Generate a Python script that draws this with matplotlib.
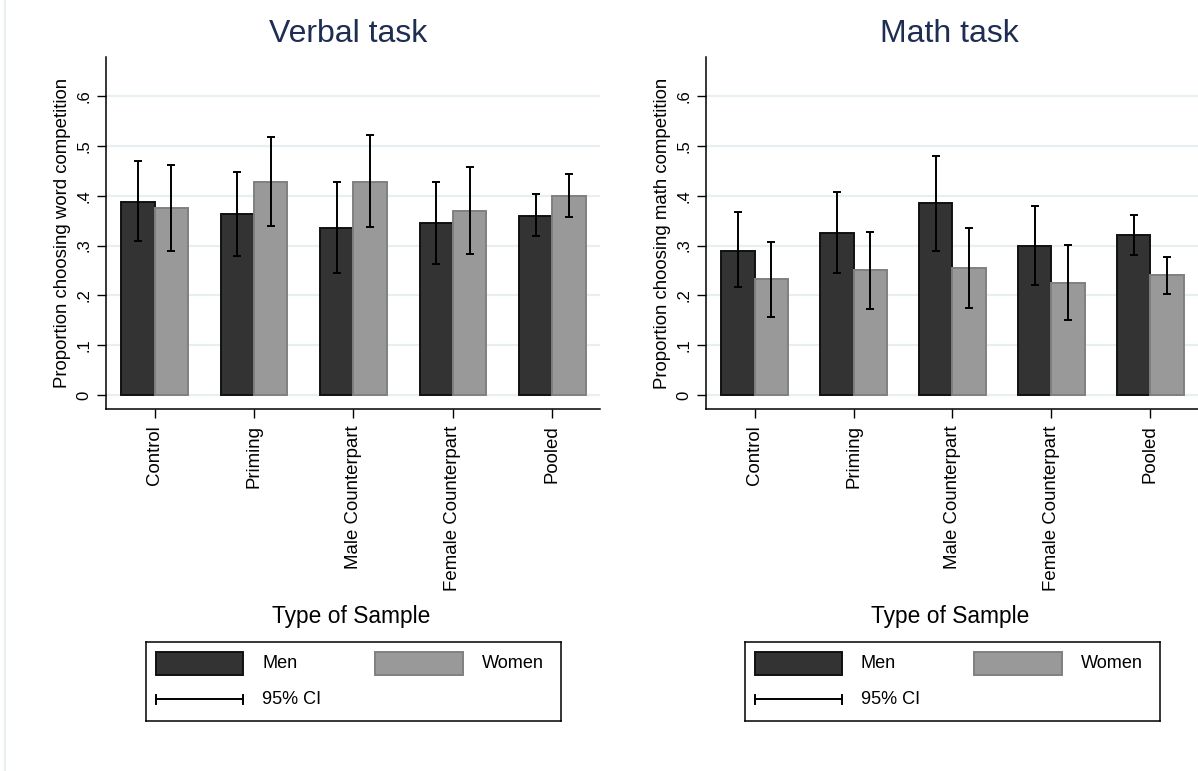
import matplotlib.pyplot as plt
import numpy as np
from matplotlib.patches import Rectangle
from matplotlib.lines import Line2D

plt.rcParams.update({
    "font.family": ["Liberation Sans", "DejaVu Sans"],
    "figure.facecolor": "white",
})

DARK, LIGHT, TITLE_C, GRID_C = "#333333", "#999999", "#1E2D52", "#E8EFF3"

samples = ["Control", "Priming", "Male Counterpart", "Female Counterpart", "Pooled"]

# Verbal task: proportion choosing word competition (mean, 95% CI)
verbal_men = [0.388, 0.363, 0.336, 0.346, 0.360]
verbal_men_lo = [0.309, 0.280, 0.244, 0.263, 0.319]
verbal_men_hi = [0.470, 0.447, 0.428, 0.428, 0.403]
verbal_women = [0.375, 0.427, 0.428, 0.370, 0.400]
verbal_women_lo = [0.290, 0.339, 0.337, 0.284, 0.357]
verbal_women_hi = [0.462, 0.517, 0.521, 0.457, 0.444]

# Math task: proportion choosing math competition (mean, 95% CI)
math_men = [0.290, 0.325, 0.385, 0.300, 0.321]
math_men_lo = [0.217, 0.245, 0.290, 0.220, 0.281]
math_men_hi = [0.367, 0.407, 0.480, 0.380, 0.361]
math_women = [0.232, 0.250, 0.254, 0.225, 0.240]
math_women_lo = [0.157, 0.173, 0.174, 0.151, 0.202]
math_women_hi = [0.307, 0.328, 0.335, 0.301, 0.278]

W, H = 1198, 771
fig = plt.figure(figsize=(W / 100, H / 100), dpi=100)


def px_axes(x0, y0, x1, y1):
    return fig.add_axes([x0 / W, 1 - y1 / H, (x1 - x0) / W, (y1 - y0) / H])


def panel(ax, title, ylabel, men, men_lo, men_hi, women, women_lo, women_hi, title_x):
    x = np.arange(len(samples))
    bw = 0.335
    ax.bar(x - bw / 2, men, bw, color=DARK, edgecolor="#111111", linewidth=1.4, zorder=3)
    ax.bar(x + bw / 2, women, bw, color=LIGHT, edgecolor="#808080", linewidth=1.4, zorder=3)
    for off, m, lo, hi in [(-bw / 2, men, men_lo, men_hi), (bw / 2, women, women_lo, women_hi)]:
        m, lo, hi = np.array(m), np.array(lo), np.array(hi)
        ax.errorbar(x + off, m, yerr=[m - lo, hi - m], fmt="none", ecolor="black",
                    elinewidth=1.4, capsize=2.8, capthick=1.4, zorder=4)
    ax.set_xlim(-0.49, 4.48)
    ax.set_ylim(-0.0288, 0.678)
    ax.set_yticks([0, 0.1, 0.2, 0.3, 0.4, 0.5, 0.6])
    ax.set_yticklabels(["0", ".1", ".2", ".3", ".4", ".5", ".6"], rotation=90, va="center")
    ax.set_xticks(x)
    ax.set_xticklabels(samples, rotation=90)
    ax.tick_params(axis="y", length=6.5, width=1, pad=4, labelsize=12)
    ax.tick_params(axis="x", length=6.5, width=1, pad=5, labelsize=13.4)
    for s in ["top", "right"]:
        ax.spines[s].set_visible(False)
    ax.spines["left"].set_linewidth(1.1)
    ax.spines["bottom"].set_linewidth(1.1)
    ax.yaxis.grid(True, color=GRID_C, linewidth=1.6, zorder=0)
    ax.set_axisbelow(True)
    ax.set_ylabel(ylabel, fontsize=13.4, va="center")
    ax.yaxis.set_label_coords(-0.089, 0.5)
    ax.set_xlabel("Type of Sample", fontsize=16.4, va="center")
    ax.xaxis.set_label_coords(0.496, -0.59)
    ax.text(title_x, 1.066, title, transform=ax.transAxes, ha="center", va="center",
            fontsize=23, color=TITLE_C)


def legend_box(x0):
    lg = px_axes(x0, 642, x0 + 415, 721)
    lg.set_xlim(0, 415)
    lg.set_ylim(79, 0)
    lg.set_xticks([])
    lg.set_yticks([])
    for s in lg.spines.values():
        s.set_linewidth(1.1)
    lg.add_patch(Rectangle((10, 10), 87, 23, facecolor=DARK, edgecolor="#111111", linewidth=1.4))
    lg.add_patch(Rectangle((229, 10), 88, 23, facecolor=LIGHT, edgecolor="#808080", linewidth=1.4))
    lg.text(116, 22, "Men", fontsize=13.1, va="center")
    lg.text(336, 22, "Women", fontsize=13.1, va="center")
    lg.plot([10, 97], [57, 57], color="black", linewidth=1.4)
    lg.plot([10, 10], [52.5, 61.5], color="black", linewidth=1.4)
    lg.plot([97, 97], [52.5, 61.5], color="black", linewidth=1.4)
    lg.text(116, 58, "95% CI", fontsize=13.1, va="center")


ax1 = px_axes(106, 57.3, 600, 409.3)
panel(ax1, "Verbal task", "Proportion choosing word competition",
      verbal_men, verbal_men_lo, verbal_men_hi, verbal_women, verbal_women_lo, verbal_women_hi,
      0.49)
ax2 = px_axes(706, 57.3, 1198, 409.3)
panel(ax2, "Math task", "Proportion choosing math competition",
      math_men, math_men_lo, math_men_hi, math_women, math_women_lo, math_women_hi,
      0.495)

legend_box(146)
legend_box(745)

# faint outer frame edge on the left
fig.add_artist(Line2D([4.5 / W, 4.5 / W], [0, 1], color=GRID_C, linewidth=1.5))

fig.savefig("out.png", dpi=100, facecolor="white")
